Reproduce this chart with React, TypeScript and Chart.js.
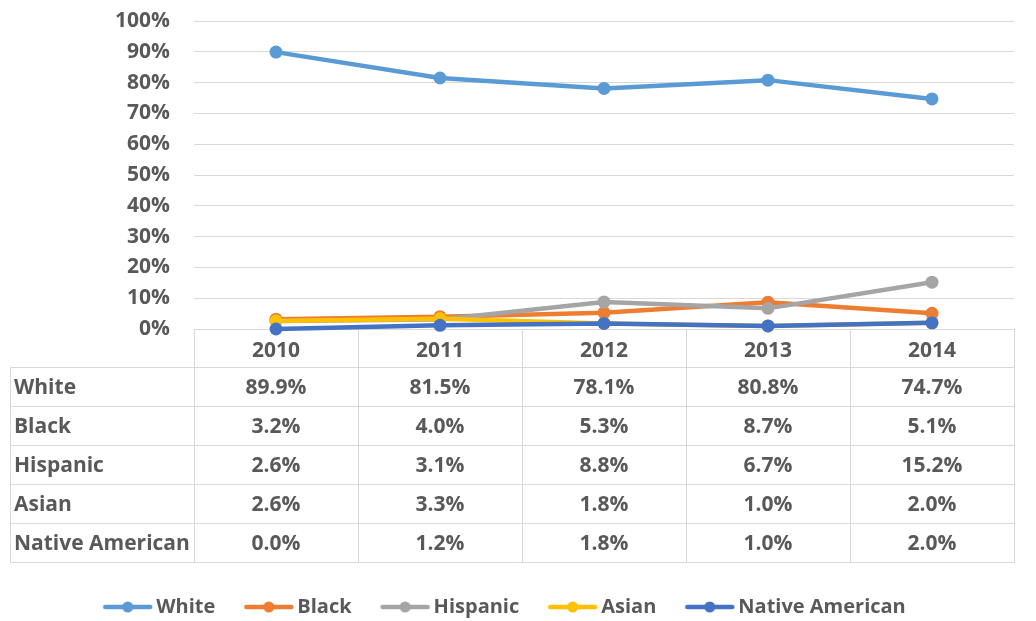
import React, { useEffect, useRef } from "react";
import { Chart, registerables } from "chart.js";

Chart.register(...registerables);

const years = ["2010", "2011", "2012", "2013", "2014"];
const white = [89.9, 81.5, 78.1, 80.8, 74.7];
const black = [3.2, 4.0, 5.3, 8.7, 5.1];
const hispanic = [2.6, 3.1, 8.8, 6.7, 15.2];
const asian = [2.6, 3.3, 1.8, 1.0, 2.0];
const nativeAmerican = [0.0, 1.2, 1.8, 1.0, 2.0];

const seriesNames = ["White", "Black", "Hispanic", "Asian", "Native American"];
const seriesValues = [white, black, hispanic, asian, nativeAmerican];
const seriesColors = ["#5B9BD5", "#ED7D31", "#A5A5A5", "#FFC000", "#4472C4"];

const FONT = "'Open Sans'";
const TEXT = "#595959";
const GRID = "#D9D9D9";
const FS = 21;
const LEGEND_FS = 20;

function legendIcon(color: string) {
  const c = document.createElement("canvas");
  c.width = 52;
  c.height = 14;
  const g = c.getContext("2d")!;
  g.strokeStyle = color;
  g.lineWidth = 4.5;
  g.lineCap = "round";
  g.beginPath();
  g.moveTo(4, 7);
  g.lineTo(49, 7);
  g.stroke();
  g.fillStyle = color;
  g.beginPath();
  g.arc(26.5, 7, 5.5, 0, Math.PI * 2);
  g.fill();
  return c;
}

const tablePlugin = {
  id: "dataTable",
  beforeDatasetsDraw(chart: any) {
    const { ctx, chartArea, scales } = chart;
    const x = scales.x;
    const top = chartArea.bottom;
    const bottom = x.bottom;
    const rowH = (bottom - top) / (seriesNames.length + 1);
    const left = 10;
    const colW = (chartArea.right - chartArea.left) / years.length;
    ctx.save();
    ctx.strokeStyle = GRID;
    ctx.lineWidth = 1;
    ctx.beginPath();
    for (let i = 0; i <= years.length; i++) {
      const px = Math.round(chartArea.left + i * colW) + 0.5;
      ctx.moveTo(px, top);
      ctx.lineTo(px, bottom);
    }
    ctx.moveTo(left + 0.5, top + rowH);
    ctx.lineTo(left + 0.5, bottom);
    for (let r = 1; r <= seriesNames.length + 1; r++) {
      const py = Math.round(top + r * rowH) - 0.5;
      ctx.moveTo(left, py);
      ctx.lineTo(chartArea.right + 0.5, py);
    }
    ctx.stroke();
    ctx.fillStyle = TEXT;
    ctx.font = `bold ${FS}px ${FONT}`;
    ctx.textBaseline = "middle";
    seriesNames.forEach((name, r) => {
      const cy = top + (r + 1.5) * rowH + 1;
      ctx.textAlign = "left";
      ctx.fillText(name, left + 4, cy);
      ctx.textAlign = "center";
      seriesValues[r].forEach((v, i) => {
        ctx.fillText(v.toFixed(1) + "%", x.getPixelForValue(i), cy);
      });
    });
    ctx.restore();
  },
};

export default function App() {
  const ref = useRef<HTMLCanvasElement>(null);
  useEffect(() => {
    document.body.style.margin = "0";
    const icons = seriesColors.map(legendIcon);
    const chart = new Chart(ref.current!, {
      type: "line",
      data: {
        labels: years,
        datasets: seriesNames.map((name, i) => ({
          label: name,
          data: seriesValues[i],
          borderColor: seriesColors[i],
          backgroundColor: seriesColors[i],
          borderWidth: 4.5,
          pointRadius: 6.5,
          pointBorderWidth: 0,
          pointBackgroundColor: seriesColors[i],
          pointStyle: "circle",
          tension: 0,
          clip: false as any,
          order: seriesNames.length - i,
        })),
      },
      options: {
        responsive: false,
        animation: false,
        layout: { padding: { top: 21, left: 0, right: 22, bottom: 0 } },
        plugins: {
          tooltip: { enabled: false },
          legend: {
            position: "bottom",
            maxHeight: 58,
            labels: {
              usePointStyle: true,
              pointStyleWidth: 38,
              padding: 34,
              color: TEXT,
              font: { family: FONT, size: LEGEND_FS, weight: "bold" },
              sort: (a: any, b: any) => a.datasetIndex - b.datasetIndex,
              generateLabels: (ch: any) =>
                Chart.defaults.plugins.legend.labels
                  .generateLabels(ch)
                  .map((l: any) => ({ ...l, pointStyle: icons[l.datasetIndex] })),
            },
          },
        },
        scales: {
          x: {
            type: "category",
            offset: true,
            grid: { display: false },
            border: { display: false },
            ticks: {
              color: TEXT,
              font: { family: FONT, size: FS, weight: "bold" },
              padding: 1,
              maxRotation: 0,
            },
            afterFit: (s: any) => {
              s.height = 234;
            },
          },
          y: {
            min: 0,
            max: 100,
            border: { display: false },
            grid: {
              color: GRID,
              lineWidth: 1,
              drawTicks: true,
              tickLength: 24,
              tickColor: "rgba(0,0,0,0)",
            },
            ticks: {
              stepSize: 10,
              color: TEXT,
              padding: 0,
              font: { family: FONT, size: FS, weight: "bold" },
              callback: (v: any) => v + "%",
            },
            afterFit: (s: any) => {
              s.width = 194;
            },
          },
        },
      },
      plugins: [tablePlugin],
    });
    return () => chart.destroy();
  }, []);
  return (
    <div style={{ width: 1036, height: 621 }}>
      <canvas ref={ref} width={1036} height={621} style={{ display: "block" }} />
    </div>
  );
}
